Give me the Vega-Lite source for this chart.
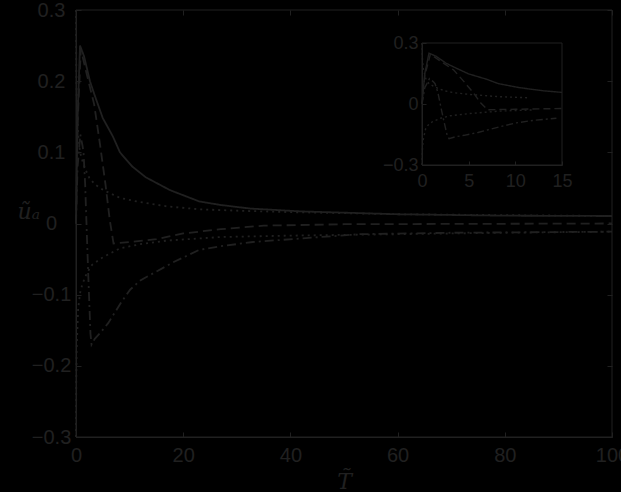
{
  "$schema": "https://vega.github.io/schema/vega-lite/v6.json",
  "width": 536,
  "height": 427,
  "autosize": "none",
  "padding": {"left": 76, "top": 10, "right": 9, "bottom": 55},
  "background": "#000000",
  "config": {
    "view": {"stroke": null},
    "axis": {
      "grid": false,
      "domainColor": "#202020",
      "tickColor": "#202020",
      "labelColor": "#202020",
      "titleColor": "#202020",
      "labelFont": "Liberation Sans",
      "labelFontSize": 20,
      "labelFlush": false,
      "labelOverlap": false,
      "tickSize": -5,
      "domainWidth": 1,
      "tickWidth": 1
    }
  },
  "datasets": {
    "curves": [
      {"series": "A", "style": "solid", "t": 0, "v": 0},
      {"series": "A", "style": "solid", "t": 0.3, "v": 0.15},
      {"series": "A", "style": "solid", "t": 0.75, "v": 0.25},
      {"series": "A", "style": "solid", "t": 1.5, "v": 0.235},
      {"series": "A", "style": "solid", "t": 2.6, "v": 0.2},
      {"series": "A", "style": "solid", "t": 3.4, "v": 0.182},
      {"series": "A", "style": "solid", "t": 5, "v": 0.148},
      {"series": "A", "style": "solid", "t": 6.9, "v": 0.122},
      {"series": "A", "style": "solid", "t": 8.2, "v": 0.1},
      {"series": "A", "style": "solid", "t": 10.5, "v": 0.08},
      {"series": "A", "style": "solid", "t": 13, "v": 0.065},
      {"series": "A", "style": "solid", "t": 15, "v": 0.057},
      {"series": "A", "style": "solid", "t": 17.5, "v": 0.047},
      {"series": "A", "style": "solid", "t": 23, "v": 0.031},
      {"series": "A", "style": "solid", "t": 27, "v": 0.026},
      {"series": "A", "style": "solid", "t": 32.5, "v": 0.021},
      {"series": "A", "style": "solid", "t": 42, "v": 0.017},
      {"series": "A", "style": "solid", "t": 60, "v": 0.013},
      {"series": "A", "style": "solid", "t": 80, "v": 0.011},
      {"series": "A", "style": "solid", "t": 100, "v": 0.0105},

      {"series": "B", "style": "dashed", "t": 0, "v": 0},
      {"series": "B", "style": "dashed", "t": 0.3, "v": 0.14},
      {"series": "B", "style": "dashed", "t": 0.9, "v": 0.245},
      {"series": "B", "style": "dashed", "t": 2, "v": 0.21},
      {"series": "B", "style": "dashed", "t": 3.4, "v": 0.167},
      {"series": "B", "style": "dashed", "t": 4.5, "v": 0.11},
      {"series": "B", "style": "dashed", "t": 5.5, "v": 0.055},
      {"series": "B", "style": "dashed", "t": 6.3, "v": 0.005},
      {"series": "B", "style": "dashed", "t": 7, "v": -0.028},
      {"series": "B", "style": "dashed", "t": 10, "v": -0.026},
      {"series": "B", "style": "dashed", "t": 15, "v": -0.022},
      {"series": "B", "style": "dashed", "t": 20, "v": -0.014},
      {"series": "B", "style": "dashed", "t": 27, "v": -0.008},
      {"series": "B", "style": "dashed", "t": 35, "v": -0.003},
      {"series": "B", "style": "dashed", "t": 50, "v": -0.001},
      {"series": "B", "style": "dashed", "t": 100, "v": 0},

      {"series": "C", "style": "dotted", "t": 0, "v": 0.3},
      {"series": "C", "style": "dotted", "t": 0.05, "v": 0.22},
      {"series": "C", "style": "dotted", "t": 0.12, "v": 0.178},
      {"series": "C", "style": "dotted", "t": 0.4, "v": 0.125},
      {"series": "C", "style": "dotted", "t": 0.75, "v": 0.1},
      {"series": "C", "style": "dotted", "t": 1.2, "v": 0.088},
      {"series": "C", "style": "dotted", "t": 1.7, "v": 0.077},
      {"series": "C", "style": "dotted", "t": 2.5, "v": 0.064},
      {"series": "C", "style": "dotted", "t": 3.5, "v": 0.055},
      {"series": "C", "style": "dotted", "t": 5.1, "v": 0.047},
      {"series": "C", "style": "dotted", "t": 8.2, "v": 0.036},
      {"series": "C", "style": "dotted", "t": 11.3, "v": 0.031},
      {"series": "C", "style": "dotted", "t": 17, "v": 0.024},
      {"series": "C", "style": "dotted", "t": 23, "v": 0.02},
      {"series": "C", "style": "dotted", "t": 30, "v": 0.018},
      {"series": "C", "style": "dotted", "t": 40, "v": 0.016},
      {"series": "C", "style": "dotted", "t": 60, "v": 0.013},
      {"series": "C", "style": "dotted", "t": 100, "v": 0.0105},

      {"series": "D", "style": "dotted", "t": 0, "v": -0.3},
      {"series": "D", "style": "dotted", "t": 0.05, "v": -0.22},
      {"series": "D", "style": "dotted", "t": 0.12, "v": -0.178},
      {"series": "D", "style": "dotted", "t": 0.4, "v": -0.12},
      {"series": "D", "style": "dotted", "t": 0.75, "v": -0.098},
      {"series": "D", "style": "dotted", "t": 1.2, "v": -0.085},
      {"series": "D", "style": "dotted", "t": 2, "v": -0.07},
      {"series": "D", "style": "dotted", "t": 3, "v": -0.058},
      {"series": "D", "style": "dotted", "t": 5.1, "v": -0.047},
      {"series": "D", "style": "dotted", "t": 8.2, "v": -0.035},
      {"series": "D", "style": "dotted", "t": 12, "v": -0.029},
      {"series": "D", "style": "dotted", "t": 17, "v": -0.024},
      {"series": "D", "style": "dotted", "t": 23, "v": -0.021},
      {"series": "D", "style": "dotted", "t": 27, "v": -0.019},
      {"series": "D", "style": "dotted", "t": 40, "v": -0.017},
      {"series": "D", "style": "dotted", "t": 60, "v": -0.015},
      {"series": "D", "style": "dotted", "t": 80, "v": -0.013},
      {"series": "D", "style": "dotted", "t": 100, "v": -0.0115},

      {"series": "E", "style": "dashdot", "t": 0, "v": 0},
      {"series": "E", "style": "dashdot", "t": 0.3, "v": 0.08},
      {"series": "E", "style": "dashdot", "t": 0.8, "v": 0.125},
      {"series": "E", "style": "dashdot", "t": 1.2, "v": 0.11},
      {"series": "E", "style": "dashdot", "t": 1.4, "v": 0.1},
      {"series": "E", "style": "dashdot", "t": 1.7, "v": 0.057},
      {"series": "E", "style": "dashdot", "t": 2, "v": -0.01},
      {"series": "E", "style": "dashdot", "t": 2.3, "v": -0.075},
      {"series": "E", "style": "dashdot", "t": 2.7, "v": -0.155},
      {"series": "E", "style": "dashdot", "t": 2.9, "v": -0.17},
      {"series": "E", "style": "dashdot", "t": 3.5, "v": -0.162},
      {"series": "E", "style": "dashdot", "t": 4.5, "v": -0.154},
      {"series": "E", "style": "dashdot", "t": 6, "v": -0.14},
      {"series": "E", "style": "dashdot", "t": 7, "v": -0.128},
      {"series": "E", "style": "dashdot", "t": 8.5, "v": -0.11},
      {"series": "E", "style": "dashdot", "t": 10.1, "v": -0.093},
      {"series": "E", "style": "dashdot", "t": 12, "v": -0.08},
      {"series": "E", "style": "dashdot", "t": 14.4, "v": -0.07},
      {"series": "E", "style": "dashdot", "t": 18, "v": -0.055},
      {"series": "E", "style": "dashdot", "t": 23, "v": -0.037},
      {"series": "E", "style": "dashdot", "t": 27, "v": -0.032},
      {"series": "E", "style": "dashdot", "t": 33, "v": -0.026},
      {"series": "E", "style": "dashdot", "t": 42, "v": -0.021},
      {"series": "E", "style": "dashdot", "t": 53, "v": -0.015},
      {"series": "E", "style": "dashdot", "t": 70, "v": -0.013},
      {"series": "E", "style": "dashdot", "t": 100, "v": -0.0115}
    ],
    "box": [{"x0": 0, "x1": 100, "y0": -0.3, "y1": 0.3}],
    "ibox": [{"x0": 0, "x1": 15, "y0": -0.3, "y1": 0.3}]
  },
  "layer": [
    {
      "layer": [
        {
          "data": {"name": "curves"},
          "mark": {"type": "line", "color": "#202020", "strokeWidth": 1.8},
          "encoding": {
            "x": {"field": "t", "type": "quantitative",
              "scale": {"domain": [0, 100], "nice": false},
              "axis": {"values": [0, 20, 40, 60, 80, 100], "labelPadding": 13, "title": "T\u0303", "titleFont": "DejaVu Serif", "titleFontStyle": "italic", "titleFontWeight": "normal", "titleFontSize": 22, "titlePadding": 6}},
            "y": {"field": "v", "type": "quantitative",
              "scale": {"domain": [-0.3, 0.3], "nice": false},
              "axis": {"values": [-0.3, -0.2, -0.1, 0, 0.1, 0.2, 0.3], "format": ".1~f", "labelAlign": "center", "labelPadding": 30, "title": "u\u0303\u2090", "titleAngle": 0, "titleFont": "DejaVu Serif", "titleFontStyle": "italic", "titleFontWeight": "normal", "titleFontSize": 22, "titlePadding": 3}},
            "strokeDash": {"field": "style", "type": "nominal",
              "scale": {"domain": ["solid", "dashed", "dotted", "dashdot"], "range": [[1, 0], [9, 5], [2, 4], [9, 4, 2, 4]]},
              "legend": null},
            "detail": {"field": "series"}
          }
        },
        {
          "data": {"name": "box"},
          "mark": {"type": "rect", "fill": null, "stroke": "#202020", "strokeWidth": 1},
          "encoding": {
            "x": {"field": "x0", "type": "quantitative", "axis": {"orient": "top", "values": [0, 20, 40, 60, 80, 100], "labels": false, "domain": false, "title": null}},
            "x2": {"field": "x1"},
            "y": {"field": "y0", "type": "quantitative", "axis": {"orient": "right", "values": [-0.3, -0.2, -0.1, 0, 0.1, 0.2, 0.3], "labels": false, "domain": false, "title": null}},
            "y2": {"field": "y1"}
          }
        }
      ],
      "resolve": {"axis": {"x": "independent", "y": "independent"}}
    },
    {
      "layer": [
        {
          "data": {"name": "curves"},
          "transform": [{"filter": "datum.t <= 15"}],
          "mark": {"type": "line", "color": "#202020", "strokeWidth": 1.4},
          "encoding": {
            "x": {"field": "t", "type": "quantitative",
              "scale": {"domain": [0, 15], "nice": false, "range": [346, 486]},
              "axis": {"orient": "bottom", "offset": -272, "values": [0, 5, 10, 15], "labelFontSize": 18, "labelPadding": 11, "title": null, "tickSize": -4}},
            "y": {"field": "v", "type": "quantitative",
              "scale": {"domain": [-0.3, 0.3], "nice": false, "range": [155, 33]},
              "axis": {"orient": "left", "offset": -346, "values": [-0.3, 0, 0.3], "format": ".1~f", "labelFontSize": 18, "labelPadding": 8, "title": null, "tickSize": -4}},
            "strokeDash": {"field": "style", "type": "nominal",
              "scale": {"domain": ["solid", "dashed", "dotted", "dashdot"], "range": [[1, 0], [7, 4], [2, 3], [7, 3, 2, 3]]},
              "legend": null},
            "detail": {"field": "series"}
          }
        },
        {
          "data": {"name": "ibox"},
          "mark": {"type": "rect", "fill": null, "stroke": "#202020", "strokeWidth": 1},
          "encoding": {
            "x": {"field": "x0", "type": "quantitative"},
            "x2": {"field": "x1"},
            "y": {"field": "y0", "type": "quantitative"},
            "y2": {"field": "y1"}
          }
        }
      ]
    }
  ],
  "resolve": {"scale": {"x": "independent", "y": "independent", "strokeDash": "independent"}, "axis": {"x": "independent", "y": "independent"}}
}
